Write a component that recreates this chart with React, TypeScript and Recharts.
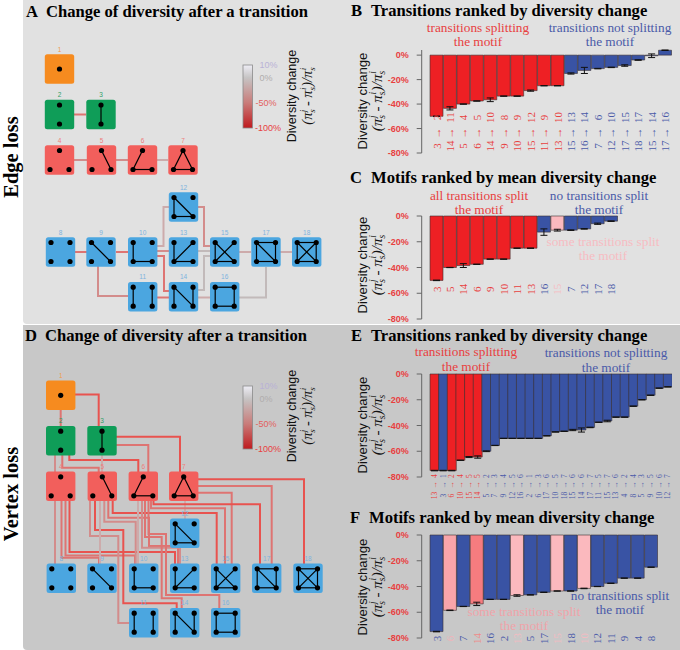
import { BarChart, Bar, Cell, ErrorBar, XAxis, YAxis, ScatterChart, Scatter } from 'recharts';

const SERIF = '"Liberation Serif", serif';
const SANS = '"Liberation Sans", sans-serif';

const RED = '#ee2024';
const BLUE = '#3953a4';
const PINK = '#fbb9be';
const MIDPINK = '#f9a5aa';
const HOTPINK = '#f67c7f';
const LABEL_RED = '#e8403f';
const LABEL_BLUE = '#4a5aa8';
const LABEL_PINK = '#f7bcc2';

const Y_TICKS = [0, -20, -40, -60, -80];

// panel B
const B_FROM = [3, 14, 5, 6, 14, 9, 10, 15, 11, 13, 15, 16, 7, 12, 17, 18, 15, 17];
const B_TO = [2, 11, 4, 5, 10, 8, 9, 12, 9, 10, 13, 14, 6, 10, 15, 17, 14, 16];
const B_VALUES = [-50, -43.5, -40, -37.5, -36.5, -33.5, -33.5, -29, -25, -25, -15, -12.5, -11, -10, -8.5, -4, -0.5, 4];
const B_ERRORS = [0.2, 1.3, 0.1, 0.1, 1.5, 0.1, 0.1, 0.5, 0.1, 0.1, 0.5, 2.5, 0.2, 0.2, 0.6, 0.2, 1.5, 0.2];
const B_SPLITTING = 10;

// panel C
const C_MOTIFS = [3, 5, 14, 6, 9, 10, 11, 13, 16, 15, 7, 12, 17, 18];
const C_VALUES = [-50, -40, -38.5, -37.5, -33.5, -33.5, -25, -25, -12.5, -11, -11, -10, -6, -4];
const C_ERRORS = [0.2, 0.1, 1.5, 0.1, 0.1, 0.1, 0.1, 0.1, 2.5, 0.7, 0.2, 0.2, 0.5, 0.2];
const C_FILLS = [RED, RED, RED, RED, RED, RED, RED, RED, BLUE, PINK, BLUE, BLUE, BLUE, BLUE];

// panel E
const E_FROM = [13, 3, 6, 10, 15, 14, 5, 7, 9, 12, 16, 2, 6, 17, 10, 18, 15, 14, 17, 11, 15, 13, 4, 8, 5, 9, 10, 12];
const E_TO = [4, 1, 2, 4, 5, 5, 2, 3, 4, 5, 6, 1, 3, 6, 5, 7, 6, 6, 7, 5, 7, 6, 2, 4, 3, 5, 6, 7];
const E_VALUES = [-75, -75, -75, -67, -64.5, -64.5, -60, -55.5, -50, -50, -50, -50, -50, -48, -45, -44.5, -43.5, -43.5, -41.5, -37.5, -36.5, -33.5, -33.5, -25, -20, -16.5, -11, -10];
const E_ERRORS = [0.2, 0.2, 0.2, 0.1, 0.4, 0.9, 0.3, 0.1, 0.1, 0.1, 0.1, 0.1, 0.1, 0.1, 0.1, 0.1, 0.5, 1.6, 0.2, 0.1, 0.6, 0.1, 0.1, 0.1, 0.1, 0.1, 0.1, 0.1];
const E_FILLS = [RED, BLUE, RED, RED, RED, RED];

// panel F
const F_MOTIFS = [3, 6, 7, 14, 16, 2, 13, 5, 17, 15, 18, 10, 12, 11, 9, 4, 8];
const F_VALUES = [-75, -58.5, -55.5, -53.5, -50, -50, -47, -46.5, -44.5, -43.5, -43.5, -41.5, -40, -37.5, -33.5, -33.5, -25];
const F_ERRORS = [0.2, 0.2, 0.1, 1.3, 0.1, 0.1, 0.6, 0.1, 0.1, 0.1, 0.1, 0.2, 0.1, 0.1, 0.1, 0.1, 0.1];
const F_FILLS = [BLUE, MIDPINK, BLUE, HOTPINK, BLUE, BLUE, PINK, BLUE, BLUE, PINK, BLUE, PINK, BLUE, BLUE, BLUE, BLUE, BLUE];
const F_LABELS = [LABEL_BLUE, '#efb4ba', LABEL_BLUE, '#f08a8a', LABEL_BLUE, LABEL_BLUE, '#f2bcc2', LABEL_BLUE, LABEL_BLUE, '#f2bcc2', LABEL_BLUE, '#f2bcc2', LABEL_BLUE, LABEL_BLUE, LABEL_BLUE, LABEL_BLUE, LABEL_BLUE];

// motif drawings
const NODE_OFFSET = 9.5;
const CORNERS: Record<string, number[]> = {
  C: [0, 0], T: [0, -1], B: [0, 1], L: [-1, 1], R: [1, 1],
  TL: [-1, -1], TR: [1, -1], BL: [-1, 1], BR: [1, 1],
};
const MOTIF_NODES: Record<number, string[]> = {
  1: ['C'], 2: ['T', 'B'], 3: ['T', 'B'], 4: ['T', 'L', 'R'], 5: ['T', 'L', 'R'], 6: ['T', 'L', 'R'], 7: ['T', 'L', 'R'],
};
const FOUR_NODES = ['TL', 'TR', 'BL', 'BR'];
const MOTIF_EDGES: Record<number, string[][]> = {
  3: [['T', 'B']],
  5: [['T', 'R']],
  6: [['T', 'L'], ['L', 'R']],
  7: [['T', 'L'], ['L', 'R'], ['T', 'R']],
  9: [['TL', 'BR']],
  10: [['TL', 'BL'], ['BL', 'BR']],
  11: [['TL', 'BL'], ['TR', 'BR']],
  12: [['TL', 'BL'], ['BL', 'BR'], ['TL', 'BR']],
  13: [['TL', 'BL'], ['BL', 'BR'], ['BL', 'TR']],
  14: [['TL', 'BL'], ['TL', 'BR'], ['TR', 'BR']],
  15: [['TL', 'BL'], ['BL', 'BR'], ['TL', 'BR'], ['BL', 'TR']],
  16: [['TL', 'TR'], ['TL', 'BL'], ['BL', 'BR'], ['TR', 'BR']],
  17: [['TL', 'TR'], ['TL', 'BL'], ['BL', 'BR'], ['TR', 'BR'], ['TL', 'BR']],
  18: [['TL', 'TR'], ['TL', 'BL'], ['BL', 'BR'], ['TR', 'BR'], ['TL', 'BR'], ['BL', 'TR']],
};
const GROUP_FILL = (m: number) => (m === 1 ? '#f68b1f' : m <= 3 ? '#0f9d58' : m <= 7 ? '#f25f5c' : '#4ba6e0');
const GROUP_TEXT = (m: number) => (m === 1 ? '#f09a50' : m <= 3 ? '#2f9f68' : m <= 7 ? '#ee7d7c' : '#7eb3de');

// motif id, x, y in panel units
const A_MOTIF_IDS = [1, 2, 3, 4, 5, 6, 7, 12, 8, 9, 10, 13, 15, 17, 18, 11, 14, 16];
const A_MOTIF_X = [59.5, 59.5, 101, 59.5, 101.5, 142.5, 183, 183.5, 60.5, 101, 142.7, 183.5, 224.7, 266, 306.7, 142.7, 183.5, 224.7];
const A_MOTIF_Y = [69, 114.5, 114.5, 160, 160, 160, 160, 207, 252, 252, 252, 252, 252, 252, 252, 296.7, 296.7, 296.7];
const D_MOTIF_IDS = A_MOTIF_IDS;
const D_MOTIF_X = [60.7, 60.7, 102, 60.7, 102.3, 143.3, 183.7, 184.7, 61.3, 102, 143.7, 184.7, 225.7, 266.7, 308, 143.7, 184.7, 225.7];
const D_MOTIF_Y = [70.3, 115.7, 115.7, 161.3, 161.3, 161.3, 161.3, 208.3, 253.3, 253.3, 253.3, 253.3, 253.3, 253.3, 253.3, 297.7, 297.7, 297.7];

const STRONG = '#e8534f';
const MID = '#de7472';
const SOFT = '#d38c8b';
const PALE = '#cdabab';
const GREY = '#c2baba';

// connectors: colour, then the bends in panel units
const A_LINKS: [string, number[][]][] = [
  [MID, [[74, 114.5], [86, 114.5]]],
  [SOFT, [[74, 160], [87, 160]]],
  [SOFT, [[116, 160], [128, 160]]],
  [PALE, [[157, 160], [168, 160]]],
  [MID, [[75, 252], [87, 252]]],
  [MID, [[116, 252], [128, 252]]],
  [PALE, [[157, 246], [163.5, 246], [163.5, 207], [169, 207]]],
  [SOFT, [[157, 251], [169, 251]]],
  [SOFT, [[98, 266], [98, 296], [128, 296]]],
  [MID, [[157, 256], [164, 256], [164, 291], [169, 291]]],
  [MID, [[157, 297.5], [169, 297.5]]],
  [SOFT, [[198, 207], [204, 207], [204, 246], [210, 246]]],
  [GREY, [[198, 251], [210, 251]]],
  [GREY, [[198, 290], [204, 290], [204, 256], [210, 256]]],
  [PALE, [[198, 297.5], [210, 297.5]]],
  [PALE, [[239, 252], [251, 252]]],
  [PALE, [[280, 252], [292, 252]]],
  [GREY, [[239, 297.5], [266, 297.5], [266, 267]]],
];
const D_LINKS: [string, number[][]][] = [
  [MID, [[60.7, 85], [60.7, 101]]],
  [STRONG, [[75, 69.5], [98.7, 69.5], [98.7, 101]]],
  [SOFT, [[55, 130], [55, 147]]],
  [MID, [[62.3, 130], [62.3, 142.7], [98.7, 142.7], [98.7, 147]]],
  [STRONG, [[69.3, 130], [69.3, 135], [138.3, 135], [138.3, 147]]],
  [PALE, [[102, 130], [102, 147]]],
  [MID, [[116, 120], [148.3, 120], [148.3, 147]]],
  [STRONG, [[116, 111.7], [180, 111.7], [180, 147]]],
  [PALE, [[185, 176], [185, 194]]],
  [STRONG, [[198, 154.3], [304, 154.3], [304, 239]]],
  [MID, [[198, 161], [271.7, 161], [271.7, 239]]],
  [MID, [[198, 167.7], [231.7, 167.7], [231.7, 239]]],
  [STRONG, [[153.5, 176], [153.5, 179.3], [260, 179.3], [260, 239]]],
  [MID, [[151, 176], [151, 183.3], [225, 183.3], [225, 239]]],
  [STRONG, [[112.7, 176], [112.7, 188], [216.7, 188], [216.7, 239]]],
  [SOFT, [[55, 176], [55, 239]]],
  [MID, [[61.5, 176], [61.5, 232.7], [99, 232.7], [99, 239]]],
  [MID, [[65.5, 176], [65.5, 230.5], [135, 230.5], [135, 239]]],
  [STRONG, [[69.5, 176], [69.5, 227], [175, 227], [175, 239]]],
  [SOFT, [[90, 176], [90, 211], [118.3, 211], [118.3, 298], [129, 298]]],
  [STRONG, [[95, 176], [95, 205], [123.3, 205], [123.3, 278.3], [176.7, 278.3], [176.7, 283]]],
  [PALE, [[100, 176], [100, 239]]],
  [SOFT, [[104.3, 176], [104.3, 196.7], [135.7, 196.7], [135.7, 239]]],
  [MID, [[108.3, 176], [108.3, 192.7], [149, 192.7], [149, 221], [178, 221], [178, 239]]],
  [PALE, [[138, 176], [138, 239]]],
  [SOFT, [[142, 176], [142, 222.7], [180, 222.7], [180, 239]]],
  [MID, [[145, 176], [145, 212], [161.7, 212], [161.7, 273.3], [181.7, 273.3], [181.7, 283]]],
  [MID, [[148.5, 176], [148.5, 209], [166, 209], [166, 270], [219.3, 270], [219.3, 283]]],
];

const renderTransitionTick = (from: number[], to: number[], splitColors: string[], y: number[], fontSize: number) =>
  (props: any) => {
    const { x, index } = props;
    const color = splitColors[index] || LABEL_BLUE;
    const parts = [String(to[index]), '→', String(from[index])];
    return (
      <g>
        {parts.map((p, i) => (
          <text key={i} x={x} y={y[i]} dy="0.35em" textAnchor="middle" transform={`rotate(-90 ${x} ${y[i]})`}
            fill={color} fontFamily={SERIF} fontSize={fontSize}>{p}</text>
        ))}
      </g>
    );
  };

const renderMotifTick = (motifs: number[], colors: string[], y: number) => (props: any) => {
  const { x, index } = props;
  return (
    <text x={x} y={y} dy="0.35em" textAnchor="middle" transform={`rotate(-90 ${x} ${y})`}
      fill={colors[index]} fontFamily={SERIF} fontSize={11}>{motifs[index]}</text>
  );
};

function RankedBars({ top, plotWidth, names, values, errors, fills, tick }: any) {
  const data = names.map((name: string, i: number) => ({ name, value: values[i], err: errors[i] }));
  return (
    <div style={{ position: 'absolute', left: 340, top: top - 20 }}>
      <BarChart width={82 + plotWidth} height={175} data={data} barCategoryGap={0}
        margin={{ top: 20, right: 0, bottom: 51, left: 0 }}>
        <XAxis dataKey="name" interval={0} axisLine={false} tickLine={false} height={1}
          padding={{ left: 8.3, right: 0 }} tick={tick} />
        <YAxis type="number" domain={[-80, 0]} ticks={Y_TICKS} interval={0} width={81.7}
          tickFormatter={(v) => `${v}%`} tickSize={5} tickMargin={8}
          axisLine={{ stroke: '#666' }} tickLine={{ stroke: '#666' }}
          tick={{ fill: LABEL_RED, fontSize: 9, fontWeight: 700, fontFamily: SANS }} />
        <Bar dataKey="value" isAnimationActive={false} stroke="#3a3030" strokeWidth={0.6}>
          {data.map((d: any, i: number) => <Cell key={d.name} fill={fills[i]} />)}
          <ErrorBar dataKey="err" width={3.5} stroke="#111" strokeWidth={1} isAnimationActive={false} />
        </Bar>
      </BarChart>
    </div>
  );
}

const nothing = () => <g />;

function MotifSquare(props: any) {
  const { cx, cy, payload } = props;
  return (
    <g>
      <rect x={cx - 14.7} y={cy - 14.7} width={29.4} height={29.4} rx={2.5} fill={GROUP_FILL(payload.motif)} />
      <text x={cx} y={cy - 17.5} textAnchor="middle" fontFamily={SANS} fontSize={6.5}
        fill={GROUP_TEXT(payload.motif)}>{payload.motif}</text>
    </g>
  );
}
const NodeDot = (props: any) => <circle cx={props.cx} cy={props.cy} r={2.6} fill="#000" />;

function NetworkPanel({ top, ids, xs, ys, links }: any) {
  const squares = ids.map((motif: number, i: number) => ({ motif, x: xs[i], y: ys[i] }));
  const place = (s: any, key: string) => ({
    x: s.x + CORNERS[key][0] * NODE_OFFSET,
    y: s.y + CORNERS[key][1] * NODE_OFFSET,
  });
  const dots = squares.flatMap((s: any) => (MOTIF_NODES[s.motif] || FOUR_NODES).map((k) => place(s, k)));
  const edges = squares.flatMap((s: any) =>
    (MOTIF_EDGES[s.motif] || []).map((e) => ({ key: `${s.motif}-${e.join('')}`, pts: e.map((k) => place(s, k)) })));
  return (
    <div style={{ position: 'absolute', left: 0, top }}>
      <ScatterChart width={340} height={325} margin={{ top: 0, right: 0, bottom: 0, left: 0 }}>
        <XAxis type="number" dataKey="x" domain={[0, 340]} hide />
        <YAxis type="number" dataKey="y" domain={[0, 325]} reversed hide />
        {links.map(([color, bends]: any, i: number) => (
          <Scatter key={`link${i}`} data={bends.map(([x, y]: number[]) => ({ x, y }))} shape={nothing}
            line={{ stroke: color, strokeWidth: 2 }} isAnimationActive={false} />
        ))}
        <Scatter data={squares} shape={MotifSquare} isAnimationActive={false} />
        {edges.map((e: any) => (
          <Scatter key={e.key} data={e.pts} shape={nothing} line={{ stroke: '#000', strokeWidth: 1.2 }} isAnimationActive={false} />
        ))}
        <Scatter data={dots} shape={NodeDot} isAnimationActive={false} />
      </ScatterChart>
    </div>
  );
}

function DiversityFormula({ x, y, size }: { x: number; y: number; size: number }) {
  const big = size * 1.15;
  const sub = size * 0.72;
  const term = (sup: string, lead: string) => (
    <>
      <tspan>{lead}</tspan>
      <tspan fontSize={sub} dy={3}>s</tspan>
      <tspan fontSize={sub} dy={-9} dx={-3}>{sup}</tspan>
      <tspan dy={6}>{' '}</tspan>
    </>
  );
  return (
    <text x={x} y={y} textAnchor="middle" transform={`rotate(-90 ${x} ${y})`} fontFamily={SERIF} fontStyle="italic" fontSize={big} fill="#111">
      {term('j', '(π')}
      <tspan>- </tspan>
      {term('i', 'π')}
      <tspan dx={-3}>)/</tspan>
      {term('i', 'π')}
    </text>
  );
}

function AxisCaption({ x, y, size = 13.1, gap = 15 }: { x: number; y: number; size?: number; gap?: number }) {
  return (
    <g>
      <text x={x} y={y} textAnchor="middle" transform={`rotate(-90 ${x} ${y})`} fontFamily={SANS} fontSize={size} fill="#111">Diversity change</text>
      <DiversityFormula x={x + gap} y={y} size={size} />
    </g>
  );
}

function PanelTitle({ letter, x, tx, y, text }: { letter: string; x: number; tx: number; y: number; text: string }) {
  const style = { fontFamily: SERIF, fontWeight: 700, fontSize: 16.6, fill: '#000' };
  return (
    <g>
      <text x={x} y={y} {...style}>{letter}</text>
      <text x={tx} y={y} {...style}>{text}</text>
    </g>
  );
}

function Note({ cx, y, gap = 13.5, color, lines }: { cx: number; y: number; gap?: number; color: string; lines: string[] }) {
  return (
    <g>
      {lines.map((l, i) => (
        <text key={l} x={cx} y={y + i * gap} textAnchor="middle" fontFamily={SERIF} fontSize={13.3} fill={color}>{l}</text>
      ))}
    </g>
  );
}

function ColorBar({ top }: { top: number }) {
  const labels: [string, string, number, number][] = [
    ['10%', '#b9b2d6', 259.5, 0],
    ['0%', '#b0adad', 259.5, 13],
    ['-50%', '#e2605e', 255.5, 38],
    ['-100%', '#e8403f', 255, 63],
  ];
  return (
    <g>
      <rect x={243} y={top} width={9.5} height={63} fill="url(#divScale)" stroke="#8a8a8a" strokeWidth={0.8} />
      {labels.map(([t, c, x, dy]) => (
        <text key={t} x={x} y={top + dy} dy="0.35em" fontFamily={SANS} fontSize={9} fill={c}>{t}</text>
      ))}
    </g>
  );
}

export default function App() {
  const bColors = B_FROM.map((_, i) => (i < B_SPLITTING ? LABEL_RED : LABEL_BLUE));
  const cColors = C_FILLS.map((f) => (f === RED ? LABEL_RED : f === PINK ? LABEL_PINK : LABEL_BLUE));
  const eColors = E_FROM.map((_, i) => (E_FILLS[i] === RED ? LABEL_RED : LABEL_BLUE));
  const eFills = E_VALUES.map((_, i) => E_FILLS[i] || BLUE);
  const bFills = B_VALUES.map((_, i) => (i < B_SPLITTING ? RED : BLUE));

  return (
    <div style={{ position: 'absolute', left: 0, top: 0, width: 680, height: 650, background: '#fff', overflow: 'hidden' }}>
      <div style={{ position: 'absolute', left: 23, top: 0, width: 657, height: 324, background: '#e1e1e1', borderRadius: '0 0 0 4px' }} />
      <div style={{ position: 'absolute', left: 23, top: 325, width: 657, height: 325, background: '#c8c8c8', borderRadius: '0 0 0 4px' }} />

      <NetworkPanel top={0} ids={A_MOTIF_IDS} xs={A_MOTIF_X} ys={A_MOTIF_Y} links={A_LINKS} />
      <NetworkPanel top={325} ids={D_MOTIF_IDS} xs={D_MOTIF_X} ys={D_MOTIF_Y} links={D_LINKS} />

      <RankedBars top={50} plotWidth={250} names={B_FROM.map((f, i) => `${f}-${B_TO[i]}`)} values={B_VALUES} errors={B_ERRORS} fills={bFills}
        tick={renderTransitionTick(B_FROM, B_TO, bColors, [117.5 - 30, 133 - 30, 146 - 30], 11)} />
      <RankedBars top={215.7} plotWidth={196} names={C_MOTIFS.map(String)} values={C_VALUES} errors={C_ERRORS} fills={C_FILLS}
        tick={renderMotifTick(C_MOTIFS, cColors, 289 - 195.7)} />
      <RankedBars top={374} plotWidth={250} names={E_FROM.map((f, i) => `${f}-${E_TO[i]}`)} values={E_VALUES} errors={E_ERRORS} fills={eFills}
        tick={renderTransitionTick(E_FROM, E_TO, eColors, [476 - 354, 485 - 354, 495.5 - 354], 7.5)} />
      <RankedBars top={535} plotWidth={236} names={F_MOTIFS.map(String)} values={F_VALUES} errors={F_ERRORS} fills={F_FILLS}
        tick={renderMotifTick(F_MOTIFS, F_LABELS, 638.5 - 515)} />

      <svg width={680} height={650} style={{ position: 'absolute', left: 0, top: 0, pointerEvents: 'none' }}>
        <defs>
          <linearGradient id="divScale" x1="0" y1="0" x2="0" y2="1">
            <stop offset="0" stopColor="#eeedf5" />
            <stop offset="0.2" stopColor="#c6c4c4" />
            <stop offset="0.6" stopColor="#c97c7a" />
            <stop offset="1" stopColor="#bf1a1e" />
          </linearGradient>
        </defs>

        <text x={18.3} y={157} textAnchor="middle" transform="rotate(-90 18.3 157)" fontFamily={SERIF} fontWeight={700} fontSize={20.5}>Edge loss</text>
        <text x={18.3} y={494} textAnchor="middle" transform="rotate(-90 18.3 494)" fontFamily={SERIF} fontWeight={700} fontSize={20.5}>Vertex loss</text>

        <PanelTitle letter="A" x={26} tx={46} y={17} text="Change of diversity after a transition" />
        <PanelTitle letter="D" x={25} tx={45} y={341} text="Change of diversity after a transition" />
        <PanelTitle letter="B" x={351} tx={371} y={16} text="Transitions ranked by diversity change" />
        <PanelTitle letter="C" x={350} tx={371} y={183} text="Motifs ranked by mean diversity change" />
        <PanelTitle letter="E" x={351} tx={371} y={341} text="Transitions ranked by diversity change" />
        <PanelTitle letter="F" x={350} tx={369} y={523} text="Motifs ranked by mean diversity change" />

        <ColorBar top={65} />
        <AxisCaption x={296} y={96} size={12.5} gap={16} />
        <ColorBar top={386} />
        <AxisCaption x={296} y={416} size={12.5} gap={16} />

        <AxisCaption x={367} y={101} />
        <AxisCaption x={367} y={265} />
        <AxisCaption x={367} y={425} />
        <AxisCaption x={367} y={587} />

        <Note cx={478} y={32} color={LABEL_RED} lines={['transitions splitting', 'the motif']} />
        <Note cx={610} y={32} color={LABEL_BLUE} lines={['transitions not splitting', 'the motif']} />
        <Note cx={479} y={200} color={LABEL_RED} lines={['all transitions split', 'the motif']} />
        <Note cx={599} y={200} color={LABEL_BLUE} lines={['no transitions split', 'the motif']} />
        <Note cx={603} y={246} gap={14} color={LABEL_PINK} lines={['some transitions split', 'the motif']} />
        <Note cx={466} y={356} gap={15} color={LABEL_RED} lines={['transitions splitting', 'the motif']} />
        <Note cx={606} y={357} gap={15} color={LABEL_BLUE} lines={['transitions not splitting', 'the motif']} />
        <Note cx={620} y={600} color={LABEL_BLUE} lines={['no transitions split', 'the motif']} />
        <Note cx={524} y={616} color="#f0a3a8" lines={['some transitions split', 'the motif']} />
      </svg>
    </div>
  );
}
